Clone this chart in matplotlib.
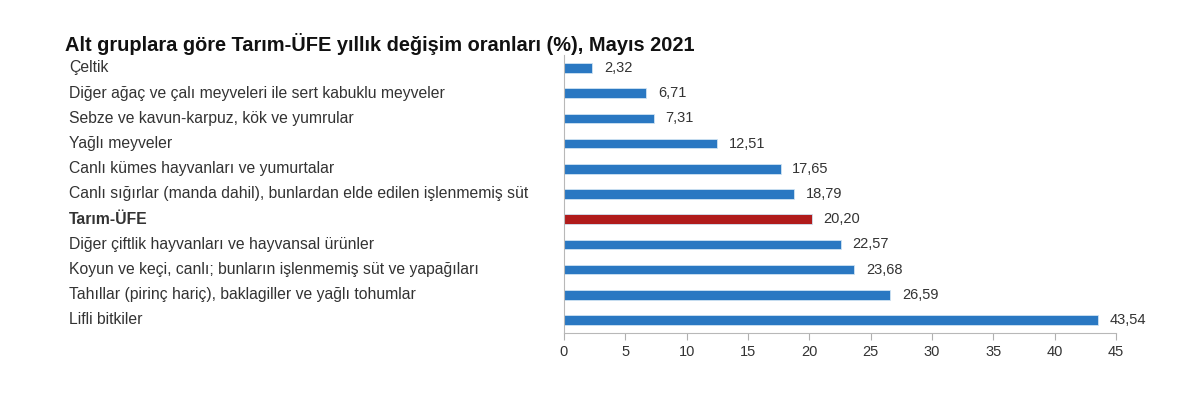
import matplotlib
matplotlib.use("Agg")
import matplotlib.pyplot as plt
import matplotlib.transforms as mtransforms

plt.rcParams["font.family"] = ["Liberation Sans", "DejaVu Sans"]

categories = [
    "Çeltik",
    "Diğer ağaç ve çalı meyveleri ile sert kabuklu meyveler",
    "Sebze ve kavun-karpuz, kök ve yumrular",
    "Yağlı meyveler",
    "Canlı kümes hayvanları ve yumurtalar",
    "Canlı sığırlar (manda dahil), bunlardan elde edilen işlenmemiş süt",
    "Tarım-ÜFE",
    "Diğer çiftlik hayvanları ve hayvansal ürünler",
    "Koyun ve keçi, canlı; bunların işlenmemiş süt ve yapağıları",
    "Tahıllar (pirinç hariç), baklagiller ve yağlı tohumlar",
    "Lifli bitkiler",
]
values = [2.32, 6.71, 7.31, 12.51, 17.65, 18.79, 20.20, 22.57, 23.68, 26.59, 43.54]
highlight = "Tarım-ÜFE"
xticks = [0, 5, 10, 15, 20, 25, 30, 35, 40, 45]

blue = "#2a78c2"
red = "#b01b1b"
text_col = "#333333"

fig = plt.figure(figsize=(12, 3.95), dpi=100)
ax = fig.add_axes([0.47, 0.158, 0.46, 0.702])

ypos = list(range(len(categories)))
colors = [red if c == highlight else blue for c in categories]
ax.barh(ypos, values, height=0.38, color=colors, edgecolor="#cfe3f3", linewidth=0.6)

ax.set_xlim(0, 45)
ax.set_ylim(len(categories) - 0.5, -0.5)
ax.set_xticks(xticks)
ax.set_xticklabels([str(t) for t in xticks], fontsize=10.5, color=text_col)
ax.tick_params(axis="x", length=5, color="#b0b0b0", pad=4)
ax.set_yticks([])

for s in ["top", "right"]:
    ax.spines[s].set_visible(False)
ax.spines["left"].set_color("#b8b8b8")
ax.spines["bottom"].set_color("#b8b8b8")

# kategori etiketleri, şeklin solunda sabit x
trans = mtransforms.blended_transform_factory(fig.transFigure, ax.transData)
for y, c in zip(ypos, categories):
    ax.text(69 / 1200, y, c, transform=trans, ha="left", va="center",
            fontsize=11.3, color=text_col,
            fontweight="bold" if c == highlight else "normal")

# değer etiketleri
for y, v in zip(ypos, values):
    ax.annotate(f"{v:.2f}".replace(".", ","), (v, y), xytext=(8.5, 0),
                textcoords="offset points", ha="left", va="center",
                fontsize=10.5, color=text_col)

fig.text(65 / 1200, 1 - 44 / 395, "Alt gruplara göre Tarım-ÜFE yıllık değişim oranları (%), Mayıs 2021",
         ha="left", va="center", fontsize=14.4, fontweight="bold", color="#111111")

fig.savefig("out.png", dpi=100)
